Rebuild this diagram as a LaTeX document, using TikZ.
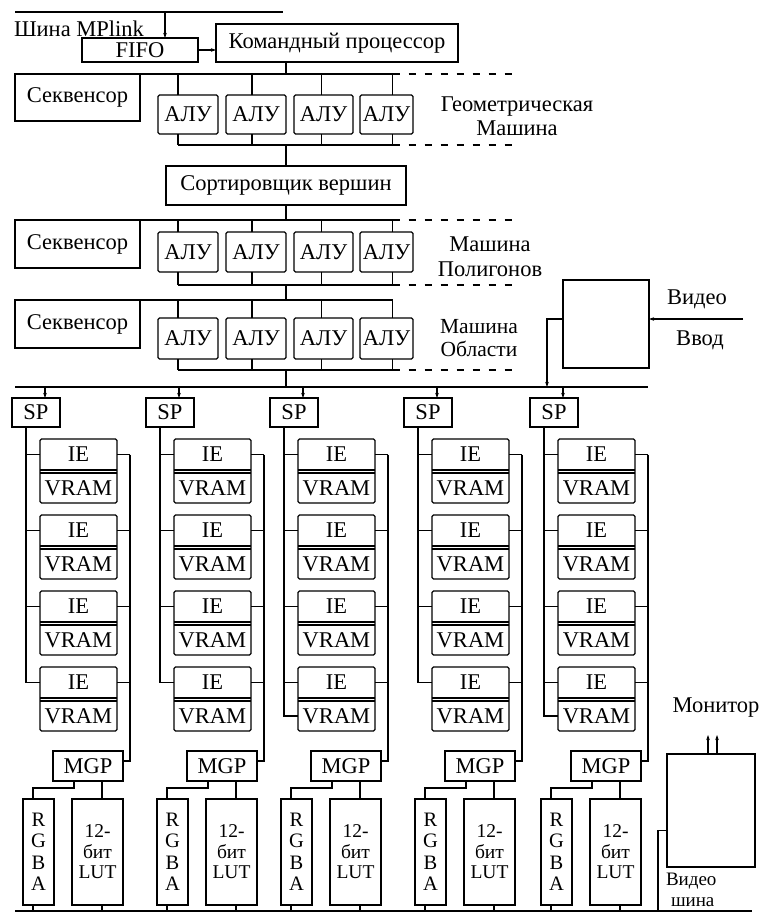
\documentclass[tikz,border=0pt]{standalone}
\usepackage{fontspec}
\setmainfont{Liberation Serif}
\usetikzlibrary{arrows.meta,calc}
\newcommand\bxat[7]{\node[#1, minimum width={((#5)-(#3))*1pt}, minimum height={((#6)-(#4))*1pt}] (#2) at ({((#3)+(#5))/2},{((#4)+(#6))/2}) {#7};}
\begin{document}
\begin{tikzpicture}[x=1pt,y=-1pt, line width=1.1pt, font=\fontsize{22.5}{25}\selectfont,
 bx/.style={draw, rectangle, inner sep=0pt, outer sep=0pt},
 rbx/.style={bx, rounded corners=1.5pt},
 tx/.style={inner sep=0pt, outer sep=0pt},
 arr/.style={-{Stealth[length=5pt,width=3.5pt]}},
 dsh/.style={dash pattern=on 7pt off 9pt}]
\useasboundingbox (0,0) rectangle (761,913);
% top
\coordinate (mp1) at (15,12); \coordinate (mp2) at (283,12);
\draw (mp1) -- (mp2);
\node[tx, anchor=west] (mplink) at (14,29) {Шина MPlink};
\bxat{bx}{fifo}{82}{38}{198}{62}{FIFO}
\bxat{bx}{cmd}{216}{24}{458}{62}{Командный процессор}
\draw[arr] ([xshift=83pt]fifo.north west |- mp1) -- ([xshift=83pt]fifo.north west);
\draw[arr] (fifo.east) -- (fifo.east -| cmd.west);
\bxat{bx}{sort}{166}{166}{406}{205}{Сортировщик вершин}
% machines
\foreach \r/\tb/\sb/\at/\ab/\bb/\dt in {g/74/121/95/134/145/1, p/220/268/232/272/285/1, a/300/348/318/359/370/0} {
  \bxat{bx}{seq\r}{15}{\tb}{140}{\sb}{Секвенсор}
  \coordinate (bb\r) at (286,\bb);
  \coordinate (dt\r) at (520,\tb);
  \coordinate (db\r) at (520,\bb);
  \foreach \i/\xa/\xb/\s in {1/158/218/-10, 2/226/286/-4, 3/294/353/-2, 4/360/413/6} {
    \bxat{rbx}{alu\r\i}{\xa}{\at}{\xb}{\ab}{АЛУ}
    \draw ([xshift=\s pt]alu\r\i.north) -- ([xshift=\s pt]alu\r\i.north |- seq\r.north);
    \draw ([xshift=\s pt]alu\r\i.south) -- ([xshift=\s pt]alu\r\i.south |- bb\r);
  }
  \draw (seq\r.north east) -- ([xshift=6pt]alu\r4.north |- seq\r.north);
  \draw ([xshift=-10pt]alu\r1.south |- bb\r) -- ([xshift=6pt]alu\r4.south |- bb\r);
  \draw[dsh] ([xshift=6pt]alu\r4.south |- bb\r) -- (db\r);
  \ifnum\dt=1 \draw[dsh] ([xshift=6pt]alu\r4.north |- seq\r.north) -- (dt\r); \fi
}
\node[tx, align=center, font=\fontsize{22.5}{24}\selectfont] (tg) at (517,116) {Геометрическая\\Машина};
\node[tx, align=center, font=\fontsize{22.5}{25}\selectfont] (tp) at (490,257) {Машина\\Полигонов};
\node[tx, align=center, font=\fontsize{21.5}{23}\selectfont] (ta) at (479,338) {Машина\\Области};
% trunk
\coordinate (mb1) at (15,387); \coordinate (mb2) at (648,387);
\draw (mb1) -- (mb2);
\draw (cmd.south -| sort.north) -- (sort.north |- seqg.north);
\draw (bbg) -- (sort.north);
\draw (sort.south) -- (sort.south |- seqp.north);
\draw (bbp) -- (bbp |- seqa.north);
\draw (bba) -- (bba |- mb1);
% video in
\bxat{bx}{vid}{563}{280}{649}{368}{}
\coordinate (vin) at (743,319);
\draw[arr] (vin) -- (vin -| vid.east);
\draw[arr] (vid.west |- vin) -| ([xshift=-16pt]vid.west |- mb1);
\node[tx] (tvid) at (697,299) {Видео};
\node[tx] (tvv) at (700,340) {Ввод};
% bottom bus
\coordinate (vb) at (15,911); \coordinate (ve) at (752,911);
\draw (vb) -- (ve);
% columns
\foreach \c/\o/\ext in {1/0/0,2/134/0,3/258/1,4/392/0,5/518/1} {
  \bxat{bx}{sp\c}{\o+12}{398}{\o+60}{427}{SP}
  \draw[arr] ([xshift=33pt]sp\c.north west |- mb1) -- ([xshift=33pt]sp\c.north west);
  \bxat{bx}{mgp\c}{\o+53}{751}{\o+123}{781}{MGP}
  \coordinate (rc\c) at (\o+130,761);
  \foreach \k/\T in {1/439,2/515,3/591,4/667} {
    \bxat{rbx}{blk\c\k}{\o+40}{\T}{\o+117}{\T+64}{}
    \bxat{tx}{ie\c\k}{\o+40}{\T}{\o+117}{\T+31}{IE}
    \bxat{tx}{vr\c\k}{\o+40}{\T+34}{\o+117}{\T+64}{VRAM}
    \draw (ie\c\k.south west) -- (ie\c\k.south east);
    \draw (vr\c\k.north west) -- (vr\c\k.north east);
    \draw (ie\c\k.west) -- ([xshift=14pt]sp\c.south west |- ie\c\k.west);
    \draw (ie\c\k.east) -- (rc\c |- ie\c\k.east);
  }
  \draw ([xshift=14pt]sp\c.south west) -- ([xshift=14pt]sp\c.south west |- ie\c4.west);
  \ifnum\ext=1
    \draw ([xshift=14pt]sp\c.south west |- ie\c4.west) |- (vr\c4.west);
  \fi
  \draw (rc\c |- ie\c1.east) -- (rc\c) -- (rc\c -| mgp\c.east);
  \bxat{bx, align=center, font=\fontsize{20.5}{21.5}\selectfont}{rgba\c}{\o+23}{799}{\o+54}{905}{R\\G\\B\\A}
  \bxat{bx, align=center, font=\fontsize{19.5}{20.5}\selectfont}{lut\c}{\o+72}{799}{\o+123}{905}{12-\\бит\\LUT}
  \draw ([xshift=21pt]mgp\c.south west) -- ++(0,7) -| ([xshift=10pt]rgba\c.north west);
  \draw ([xshift=30pt]lut\c.north west) -- ([xshift=30pt]lut\c.north west |- mgp\c.south);
  \draw ([xshift=10pt]rgba\c.south west) -- ([xshift=10pt]rgba\c.south west |- vb);
  \draw ([xshift=30pt]lut\c.south west) -- ([xshift=30pt]lut\c.south west |- vb);
}
% monitor
\bxat{bx}{mon}{667}{754}{755}{867}{}
\draw[arr] ([xshift=41pt]mon.north west) -- ++(0,-19);
\draw[arr] ([xshift=50pt]mon.north west) -- ++(0,-19);
\node[tx] (tmon) at (716,708) {Монитор};
\draw ([yshift=-20pt]mon.west) -| ([xshift=-9pt]mon.west |- vb);
\node[tx, anchor=base west, font=\fontsize{19}{19}\selectfont] (tvb1) at (666,885) {Видео};
\node[tx, anchor=base west, font=\fontsize{19}{19}\selectfont] (tvb2) at (671,906) {шина};
\end{tikzpicture}
\end{document}
